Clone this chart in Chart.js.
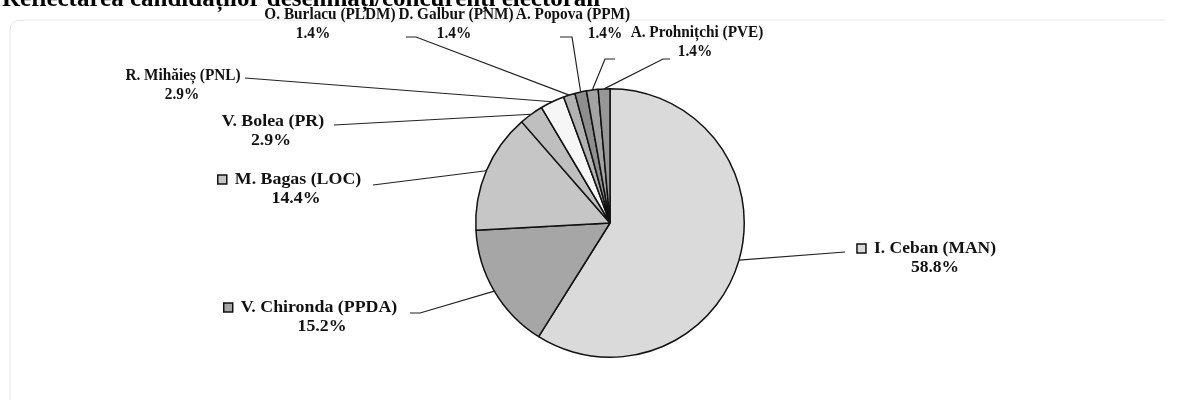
<!DOCTYPE html>
<html>
<head>
<meta charset="utf-8">
<script src="https://cdn.jsdelivr.net/npm/chart.js@4"></script>
<style>
    html, body { margin: 0; padding: 0; background: #fff; }
    #wrap { width: 1178px; height: 405px; position: relative; }
</style>
</head>
<body>
<div id="wrap"><canvas id="pieChart" width="1178" height="405"></canvas></div>
<script>
// date din grafic
const candidates = ['I. Ceban (MAN)', 'V. Chironda (PPDA)', 'M. Bagas (LOC)', 'V. Bolea (PR)', 'R. Mihăieș (PNL)',
    'O. Burlacu (PLDM)', 'D. Galbur (PNM)', 'A. Popova (PPM)', 'A. Prohnițchi (PVE)'];
const shares = [58.8, 15.2, 14.4, 2.9, 2.9, 1.4, 1.4, 1.4, 1.4];
const titleText = 'Reflectarea candidaților desemnați/concurenți electorali';

const sliceColors = ['#dadada', '#a6a6a6', '#c6c6c6', '#bfbfbf', '#f6f6f6', '#b2b2b2', '#8e8e8e', '#a3a3a3', '#979797'];

// pozitia etichetelor: nume (nx, ny), procent (px, py), latime (sx), puncte de legatura spre felie
const labelPos = [
    { nx: 935, ny: 249, px: 935, py: 268, sx: 1.03, box: true, leader: [[845, 252]] },
    { nx: 319, ny: 308, px: 322, py: 327, sx: 1.05, box: true, leader: [[410, 313], [420, 313]] },
    { nx: 298, ny: 180, px: 296, py: 199, sx: 1.05, box: true, leader: [[373, 185]] },
    { nx: 273, ny: 122, px: 271, py: 141, sx: 1.05, box: false, leader: [[334, 125]] },
    { nx: 183, ny: 76, px: 182, py: 95, sx: 0.9, box: false, leader: [[245, 78]] },
    { nx: 330, ny: 15, px: 313, py: 34, sx: 0.9, box: false, leader: [[406, 37], [416, 37]] },
    { nx: 456, ny: 15, px: 454, py: 34, sx: 0.9, box: false, leader: [[560, 37], [572, 37]] },
    { nx: 573, ny: 15, px: 605, py: 34, sx: 0.9, box: false, leader: [[615, 59], [605, 59]] },
    { nx: 697, ny: 33, px: 695, py: 52, sx: 0.9, box: false, leader: [[670, 59], [663, 59]] }
];

const labelFont = 'bold 17px "Liberation Serif", "DejaVu Serif", serif';

function drawText(ctx, text, x, y, sx) {
    ctx.save();
    ctx.translate(x, y);
    ctx.scale(sx, 1);
    ctx.fillText(text, 0, 0);
    ctx.restore();
}

const labelsPlugin = {
    id: 'pieLabels',
    beforeDraw(chart) {
        const ctx = chart.ctx;
        ctx.save();
        // rama slaba a diagramei
        ctx.strokeStyle = '#e6e6e6';
        ctx.lineWidth = 1;
        ctx.beginPath();
        ctx.moveTo(10, 400);
        ctx.lineTo(10, 30);
        ctx.quadraticCurveTo(10, 20, 22, 20);
        ctx.lineTo(1165, 20);
        ctx.stroke();
        // titlul taiat sus
        ctx.fillStyle = '#000';
        ctx.font = 'bold 25px "Liberation Serif", serif';
        ctx.textBaseline = 'alphabetic';
        ctx.textAlign = 'left';
        ctx.fillText(titleText, 2, 6);
        ctx.restore();
    },
    afterDatasetsDraw(chart) {
        const ctx = chart.ctx;
        const meta = chart.getDatasetMeta(0);
        ctx.save();
        meta.data.forEach((arc, i) => {
            const p = arc.getProps(['x', 'y', 'startAngle', 'endAngle', 'outerRadius'], true);
            const mid = (p.startAngle + p.endAngle) / 2;
            const ax = p.x + Math.cos(mid) * p.outerRadius;
            const ay = p.y + Math.sin(mid) * p.outerRadius;
            const lp = labelPos[i];

            ctx.strokeStyle = '#222';
            ctx.lineWidth = 1.2;
            ctx.beginPath();
            ctx.moveTo(lp.leader[0][0], lp.leader[0][1]);
            for (let k = 1; k < lp.leader.length; k++) ctx.lineTo(lp.leader[k][0], lp.leader[k][1]);
            ctx.lineTo(ax, ay);
            ctx.stroke();

            ctx.font = labelFont;
            ctx.fillStyle = '#111';
            ctx.textBaseline = 'middle';
            ctx.textAlign = 'center';
            const name = candidates[i];
            drawText(ctx, name, lp.nx, lp.ny, lp.sx);
            drawText(ctx, shares[i].toFixed(1) + '%', lp.px, lp.py, lp.sx);

            if (lp.box) {
                const w = ctx.measureText(name).width * lp.sx;
                const bx = lp.nx - w / 2 - 17;
                ctx.fillStyle = sliceColors[i];
                ctx.fillRect(bx, lp.ny - 5, 9, 9);
                ctx.strokeStyle = '#111';
                ctx.lineWidth = 1.5;
                ctx.strokeRect(bx, lp.ny - 5, 9, 9);
            }
        });
        ctx.restore();
    }
};

new Chart(document.getElementById('pieChart').getContext('2d'), {
    type: 'pie',
    data: {
        labels: candidates,
        datasets: [{
            data: shares,
            backgroundColor: sliceColors,
            borderColor: '#111',
            borderWidth: 1.5
        }]
    },
    options: {
        responsive: false,
        animation: false,
        layout: { padding: { left: 475, right: 433, top: 88, bottom: 47 } },
        plugins: {
            legend: { display: false },
            tooltip: { enabled: false }
        }
    },
    plugins: [labelsPlugin]
});
</script>
</body>
</html>
